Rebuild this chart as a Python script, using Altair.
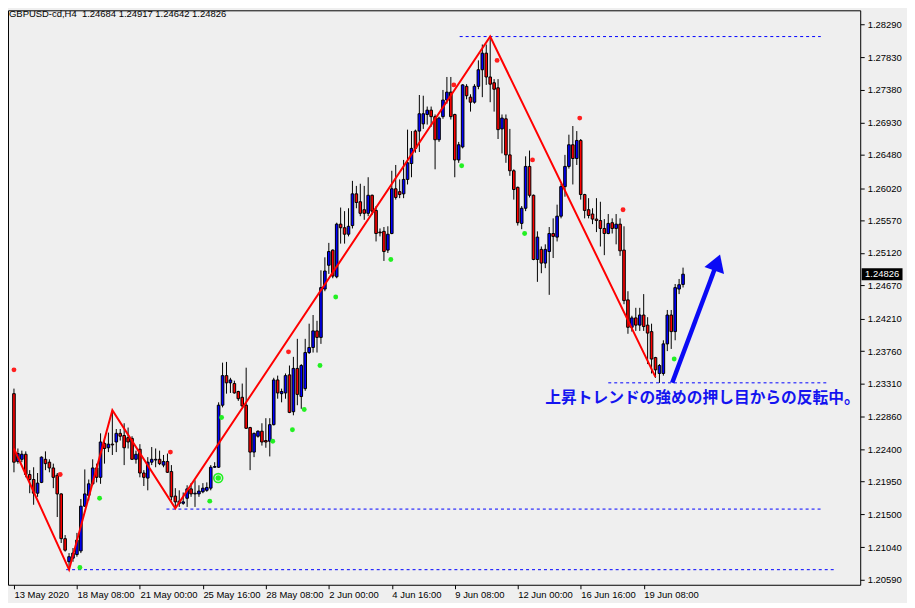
import altair as alt
import pandas as pd

# ---------------- data ----------------
opens = [1.2317,1.2223,1.2226,1.2233,1.2205,1.2198,1.2179,1.2194,1.2226,1.2222,
         1.2214,1.2204,1.2178,1.2116,1.2084,1.2089,1.2094,1.2099,1.2161,1.2176,
         1.2192,1.2214,1.2201,1.2248,1.2242,1.2247,1.2250,1.2262,1.2259,1.2256,
         1.2255,1.2226,1.2240,1.2207,1.2200,1.2222,1.2225,1.2226,1.2218,1.2223,
         1.2209,1.2175,1.2165,1.2165,1.2172,1.2185,1.2178,1.2178,1.2181,1.2183,
         1.2186,1.2215,1.2215,1.2301,1.2342,1.2332,1.2331,1.2320,1.2312,1.2301,
         1.2270,1.2236,1.2258,1.2265,1.2252,1.2251,1.2274,1.2336,1.2317,1.2318,
         1.2343,1.2292,1.2352,1.2313,1.2324,1.2374,1.2381,1.2404,1.2395,1.2462,
         1.2495,1.2516,1.2479,1.2552,1.2547,1.2538,1.2550,1.2594,1.2583,1.2572,
         1.2567,1.2592,1.2571,1.2541,1.2542,1.2516,1.2539,1.2601,1.2597,1.2594,
         1.2614,1.2636,1.2681,1.2681,1.2691,1.2704,1.2710,1.2701,1.2669,1.2701,
         1.2724,1.2735,1.2704,1.2641,1.2659,1.2743,1.2728,1.2721,1.2743,1.2766,
         1.2789,1.2756,1.2748,1.2741,1.2684,1.2698,1.2648,1.2626,1.2603,1.2553,
         1.2574,1.2632,1.2592,1.2503,1.2517,1.2498,1.2514,1.2539,1.2534,1.2563,
         1.2604,1.2632,1.2662,1.2643,1.2668,1.2593,1.2572,1.2566,1.2559,1.2557,
         1.2546,1.2539,1.2554,1.2546,1.2552,1.2516,1.2447,1.2409,1.2422,1.2412,
         1.2426,1.2412,1.2403,1.2367,1.2345,1.2345,1.2386,1.2426,1.2403,1.2462,
         1.24684]
highs = [1.2324,1.2241,1.2238,1.2237,1.2211,1.2215,1.2207,1.2230,1.2237,1.2226,
         1.2220,1.2207,1.2179,1.2121,1.2096,1.2103,1.2124,1.2171,1.2212,1.2198,
         1.2226,1.2220,1.2262,1.2252,1.2263,1.2294,1.2268,1.2268,1.2276,1.2270,
         1.2258,1.2238,1.2247,1.2211,1.2229,1.2243,1.2241,1.2238,1.2232,1.2234,
         1.2218,1.2186,1.2183,1.2180,1.2190,1.2193,1.2197,1.2190,1.2193,1.2194,
         1.2218,1.2222,1.2305,1.2360,1.2361,1.2339,1.2335,1.2321,1.2331,1.2353,
         1.2271,1.2263,1.2266,1.2276,1.2283,1.2283,1.2339,1.2342,1.2324,1.2345,
         1.2356,1.2368,1.2393,1.2358,1.2393,1.2414,1.2426,1.2418,1.2488,1.2506,
         1.2526,1.2517,1.2554,1.2575,1.2570,1.2574,1.2612,1.2605,1.2608,1.2605,
         1.2617,1.2593,1.2577,1.2546,1.2548,1.2549,1.2626,1.2634,1.2614,1.2641,
         1.2683,1.2681,1.2683,1.2731,1.2730,1.2715,1.2715,1.2704,1.2701,1.2738,
         1.2756,1.2756,1.2705,1.2666,1.2746,1.2746,1.2732,1.2746,1.2779,1.2801,
         1.2801,1.2812,1.2753,1.2753,1.2704,1.2704,1.2684,1.2628,1.2604,1.2577,
         1.2646,1.2654,1.2593,1.2542,1.2521,1.2524,1.2548,1.2560,1.2579,1.2608,
         1.2648,1.2676,1.2688,1.2681,1.2670,1.2594,1.2588,1.2574,1.2588,1.2583,
         1.2559,1.2566,1.2560,1.2566,1.2560,1.2549,1.2459,1.2425,1.2436,1.2436,
         1.2455,1.2423,1.2414,1.2368,1.2358,1.2391,1.2433,1.2433,1.2469,1.2476,
         1.24917]
lows = [1.2208,1.2220,1.2222,1.2201,1.2179,1.2163,1.2174,1.2193,1.2211,1.2208,
        1.2186,1.2146,1.2110,1.2098,1.2073,1.2084,1.2091,1.2096,1.2160,1.2169,
        1.2190,1.2194,1.2192,1.2220,1.2236,1.2232,1.2236,1.2252,1.2218,1.2241,
        1.2225,1.2220,1.2201,1.2189,1.2183,1.2218,1.2215,1.2218,1.2215,1.2207,
        1.2169,1.2158,1.2160,1.2163,1.2160,1.2174,1.2160,1.2174,1.2179,1.2181,
        1.2183,1.2214,1.2214,1.2298,1.2317,1.2318,1.2317,1.2307,1.2298,1.2268,
        1.2211,1.2229,1.2256,1.2245,1.2242,1.2230,1.2273,1.2310,1.2305,1.2310,
        1.2290,1.2287,1.2301,1.2296,1.2321,1.2372,1.2374,1.2374,1.2386,1.2459,
        1.2483,1.2477,1.2477,1.2525,1.2525,1.2535,1.2546,1.2574,1.2563,1.2558,
        1.2563,1.2565,1.2528,1.2535,1.2501,1.2512,1.2538,1.2586,1.2588,1.2588,
        1.2607,1.2617,1.2651,1.2652,1.2684,1.2690,1.2687,1.2628,1.2666,1.2698,
        1.2719,1.2697,1.2617,1.2637,1.2657,1.2725,1.2708,1.2719,1.2739,1.2728,
        1.2745,1.2721,1.2708,1.2670,1.2650,1.2637,1.2619,1.2586,1.2550,1.2545,
        1.2570,1.2589,1.2502,1.2472,1.2484,1.2491,1.2454,1.2505,1.2528,1.2560,
        1.2590,1.2629,1.2607,1.2634,1.2586,1.2560,1.2560,1.2552,1.2541,1.2521,
        1.2509,1.2538,1.2539,1.2524,1.2508,1.2441,1.2400,1.2403,1.2404,1.2404,
        1.2404,1.2358,1.2345,1.2339,1.2332,1.2342,1.2376,1.2379,1.2391,1.2455,
        1.24642]
closes = [1.2222,1.2234,1.2233,1.2205,1.2198,1.2179,1.2193,1.2229,1.2220,1.2214,
          1.2201,1.2178,1.2116,1.2100,1.2091,1.2096,1.2114,1.2161,1.2178,1.2192,
          1.2214,1.2201,1.2250,1.2241,1.2247,1.2246,1.2262,1.2258,1.2242,1.2250,
          1.2226,1.2233,1.2207,1.2201,1.2222,1.2226,1.2226,1.2220,1.2223,1.2208,
          1.2174,1.2167,1.2168,1.2167,1.2185,1.2178,1.2179,1.2182,1.2186,1.2187,
          1.2215,1.2216,1.2301,1.2342,1.2332,1.2336,1.2318,1.2310,1.2300,1.2269,
          1.2236,1.2262,1.2265,1.2250,1.2250,1.2274,1.2336,1.2318,1.2320,1.2342,
          1.2291,1.2352,1.2316,1.2356,1.2374,1.2381,1.2404,1.2395,1.2464,1.2487,
          1.2514,1.2480,1.2552,1.2547,1.2538,1.2549,1.2594,1.2582,1.2567,1.2567,
          1.2592,1.2570,1.2539,1.2540,1.2514,1.2538,1.2601,1.2589,1.2593,1.2614,
          1.2637,1.2657,1.2657,1.2705,1.2705,1.2710,1.2701,1.2669,1.2699,1.2724,
          1.2735,1.2701,1.2641,1.2662,1.2745,1.2730,1.2721,1.2743,1.2766,1.2789,
          1.2756,1.2746,1.2739,1.2683,1.2699,1.2648,1.2626,1.2600,1.2554,1.2574,
          1.2632,1.2592,1.2503,1.2534,1.2498,1.2517,1.2539,1.2535,1.2563,1.2604,
          1.2632,1.2662,1.2643,1.2668,1.2593,1.2571,1.2564,1.2559,1.2557,1.2546,
          1.2539,1.2553,1.2546,1.2552,1.2515,1.2446,1.2409,1.2422,1.2412,1.2426,
          1.2410,1.2401,1.2365,1.2350,1.2356,1.2386,1.2426,1.2403,1.2464,1.2468,
          1.24826]

# zigzag vertices (bar index, price)
zz_idx = [0, 14, 25, 41, 121, 163]
zz_price = [1.2241, 1.2073, 1.2294, 1.2158, 1.2812, 1.2340]

# blue dashed levels
lvl_price = [1.2812, 1.2332, 1.2157, 1.2073]
lvl_start = [113.25, 151.0, 38.75, 13.25]
lvl_end = [205.0, 207.0, 205.0, 208.75]

# fractal-like dots
red_idx = [0, 11.75, 39.75, 69.75, 111.75, 122.75, 131.75, 143.75, 154.75]
red_price = [1.2350, 1.2205, 1.2236, 1.2375, 1.2745, 1.2779, 1.2641, 1.2699, 1.2572]
green_idx = [16.75, 21.75, 49.75, 52.75, 65.75, 70.75, 73.75, 77.75, 81.75, 95.75,
             113.75, 129.75, 167.75]
green_price = [1.2076, 1.2172, 1.2168, 1.2284, 1.2251, 1.2267, 1.2295, 1.2356, 1.2451,
               1.2503, 1.2633, 1.2539, 1.2365]
ring_idx = [51.9]
ring_price = [1.2200]

# arrow (tail -> head centre)
arrow_idx = [167.25, 178.45]
arrow_price = [1.2332, 1.24956]

x_tick_idx = [0, 16, 32, 48, 64, 80, 96, 112, 128, 144, 160]
x_tick_labels = ["13 May 2020", "18 May 08:00", "21 May 00:00", "25 May 16:00",
                 "28 May 08:00", "2 Jun 00:00", "4 Jun 16:00", "9 Jun 08:00",
                 "12 Jun 00:00", "16 Jun 16:00", "19 Jun 08:00"]
y_ticks = [1.28290, 1.27830, 1.27380, 1.26930, 1.26480, 1.26020, 1.25570, 1.25120,
           1.24670, 1.24210, 1.23760, 1.23310, 1.22860, 1.22400, 1.21950, 1.21500,
           1.21040, 1.20590]

header = "GBPUSD-cd,H4\u00a0\u00a01.24684 1.24917 1.24642 1.24826"
note = "上昇トレンドの強めの押し目からの反転中。"
note_idx = 135
note_price = 1.23115
last_price = 1.24826

# ---------------- chart ----------------
FONT = "Liberation Sans"
W, H = 856, 577
xs = alt.Scale(domain=[-0.25, 213.75], nice=False, zero=False)
ys = alt.Scale(domain=[1.20521, 1.28484], nice=False, zero=False)

n = len(opens)
candles = pd.DataFrame({"i": list(range(n)), "open": opens, "high": highs,
                        "low": lows, "close": closes})
candles["dir"] = ["up" if c >= o else "down" for o, c in zip(opens, closes)]

label_expr = "[" + ",".join("'%s'" % s for s in x_tick_labels) + "][round(datum.value/16)]"

x_axis = alt.Axis(values=x_tick_idx, labelExpr=label_expr, orient="bottom", title=None,
                  grid=False, domain=False, tickSize=4, tickColor="black",
                  labelAlign="left", labelPadding=1, labelFont=FONT, labelFontSize=9.5,
                  labelColor="black", labelOverlap=False, labelFlush=False)
y_axis = alt.Axis(values=y_ticks, format=".5f", orient="right", title=None, grid=False,
                  domain=False, tickSize=4, tickColor="black", labelPadding=3,
                  labelFont=FONT, labelFontSize=9.5, labelColor="black",
                  labelOverlap=False, labelFlush=False, labelBound=False)


def X(field):
    return alt.X(field, scale=xs, axis=x_axis)


def Y(field):
    return alt.Y(field, scale=ys, axis=y_axis)


wicks = alt.Chart(candles).mark_rule(color="black", strokeWidth=1).encode(
    x=X("i:Q"), y=Y("low:Q"), y2="high:Q",
)
bodies = alt.Chart(candles).mark_bar(width=2.6, stroke="black", strokeWidth=1).encode(
    x=X("i:Q"),
    y=Y("open:Q"),
    y2="close:Q",
    color=alt.Color("dir:N", scale=alt.Scale(domain=["up", "down"],
                                             range=["#0000FF", "#FF0000"]), legend=None),
)

zz_df = pd.DataFrame({"i": zz_idx, "p": zz_price})
zig = alt.Chart(zz_df).mark_line(color="#FF0000", strokeWidth=2).encode(
    x=X("i:Q"), y=Y("p:Q"))

lvl_df = pd.DataFrame({"p": lvl_price, "s": lvl_start, "e": lvl_end})
levels = alt.Chart(lvl_df).mark_rule(color="#0000FF", strokeWidth=1, strokeDash=[3, 3]).encode(
    x=X("s:Q"), x2="e:Q", y=Y("p:Q"))

red_df = pd.DataFrame({"i": red_idx, "p": red_price})
red_dots = alt.Chart(red_df).mark_point(filled=True, size=24, color="#FF1E1E", opacity=1).encode(
    x=X("i:Q"), y=Y("p:Q"))
green_df = pd.DataFrame({"i": green_idx, "p": green_price})
green_dots = alt.Chart(green_df).mark_point(filled=True, size=24, color="#22F022", opacity=1).encode(
    x=X("i:Q"), y=Y("p:Q"))
ring_df = pd.DataFrame({"i": ring_idx, "p": ring_price})
ring = alt.Chart(ring_df).mark_point(filled=False, size=80, color="#22F022", strokeWidth=1.6,
                                     opacity=1).encode(
    x=X("i:Q"), y=Y("p:Q"))
ring_dot = alt.Chart(ring_df).mark_point(filled=True, size=30, color="#22F022", opacity=1).encode(
    x=X("i:Q"), y=Y("p:Q"))

arr_df = pd.DataFrame({"i": arrow_idx, "p": arrow_price})
shaft = alt.Chart(arr_df).mark_line(color="#0A0AF5", strokeWidth=4.5, strokeCap="butt").encode(
    x=X("i:Q"), y=Y("p:Q"))
head_df = pd.DataFrame({"i": [arrow_idx[1]], "p": [arrow_price[1]]})
head = alt.Chart(head_df).mark_point(
    shape="M0,-1L0.95,0.55L-0.95,0.55Z", size=484, angle=20, filled=True,
    color="#0A0AF5", opacity=1).encode(
    x=X("i:Q"), y=Y("p:Q"))

note_df = pd.DataFrame({"i": [note_idx], "p": [note_price], "t": [note]})
note_txt = alt.Chart(note_df).mark_text(
    align="left", baseline="middle", font="Noto Sans CJK JP", fontSize=15.8,
    fontWeight="bold", color="#1414F0").encode(
    x=X("i:Q"), y=Y("p:Q"), text="t:N")

hdr_df = pd.DataFrame({"t": [header]})
hdr = alt.Chart(hdr_df).mark_text(align="left", baseline="middle", font=FONT,
                                  fontSize=9.5, color="black").encode(
    x=alt.value(1), y=alt.value(4), text="t:N")

px_df = pd.DataFrame({"p": [last_price], "t": ["%.5f" % last_price]})
px_box = alt.Chart(px_df).mark_point(
    shape="M-1,-0.293H1V0.293H-1Z", size=1681, filled=True, color="black", opacity=1).encode(
    x=alt.value(878), y=Y("p:Q"))
px_txt = alt.Chart(px_df).mark_text(align="center", baseline="middle", font=FONT,
                                    fontSize=9.5, color="white").encode(
    x=alt.value(878), y=Y("p:Q"), text="t:N")

chart = alt.layer(
    wicks, bodies, levels, zig, red_dots, green_dots, ring, ring_dot,
    shaft, head, note_txt, hdr, px_box, px_txt
).properties(
    width=W, height=H,
    padding={"left": 0, "top": 0, "right": 4, "bottom": 2},
    background="#EFEFEF",
).configure_view(
    stroke="black", strokeWidth=1, fill="#EFEFEF"
).configure_axis(
    labelOverlap=False
)

chart.save("out.html", embed_options={"renderer": "svg", "actions": False})
